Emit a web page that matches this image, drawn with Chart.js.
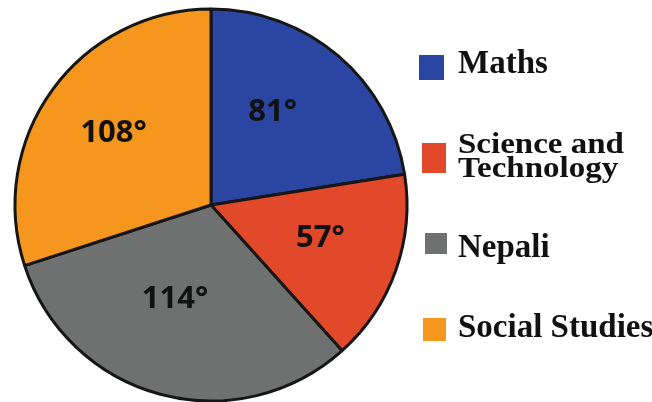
<!DOCTYPE html>
<html lang="en">
<head>
  <meta charset="UTF-8" />
  <title>Subjects pie chart</title>
  <script src="https://cdn.jsdelivr.net/npm/chart.js"></script>
  <style>
    html, body { margin: 0; padding: 0; background: #fff; }
    canvas { display: block; }
  </style>
</head>
<body>
  <canvas id="grafico" width="652" height="402"></canvas>

<script>
// data (degrees)
const subjects = ["Maths", ["Science and", "Technology"], "Nepali", "Social Studies"];
const degrees = [81, 57, 114, 108];
const sliceLabels = ["81°", "57°", "114°", "108°"];
const colours = ["#2B45A3", "#E2482A", "#6F7170", "#F5961E"];

// labels in the slices
const sliceText = {
  id: 'sliceText',
  afterDatasetsDraw(chart, args, opts) {
    const ctx = chart.ctx;
    const arcs = chart.getDatasetMeta(0).data;
    ctx.save();
    ctx.font = "bold 31px 'Open Sans'";
    ctx.fillStyle = "#111";
    ctx.textAlign = "center";
    ctx.textBaseline = "middle";
    arcs.forEach((arc, i) => {
      const a = (arc.startAngle + arc.endAngle) / 2;
      const r = arc.outerRadius * 0.57;
      const n = opts.nudge[i];
      ctx.fillText(sliceLabels[i], arc.x + Math.cos(a) * r + n[0], arc.y + Math.sin(a) * r + n[1]);
    });
    ctx.restore();
  }
};

// legend on the right, drawn by hand
const sideLegend = {
  id: 'sideLegend',
  afterDraw(chart, args, opts) {
    const ctx = chart.ctx;
    ctx.save();
    ctx.font = "bold 33px 'Liberation Serif'";
    ctx.textBaseline = "alphabetic";
    chart.data.labels.forEach((lab, i) => {
      const b = opts.boxes[i];
      ctx.fillStyle = colours[i];
      ctx.fillRect(b[0], b[1], b[2], b[3]);
      ctx.fillStyle = "#111";
      const lines = Array.isArray(lab) ? lab : [lab];
      // two-line label is squeezed a little in height, like the original
      const sy = lines.length > 1 ? 0.9 : 1;
      lines.forEach((t, k) => {
        const y = opts.baselines[i] + k * 24;
        ctx.save();
        ctx.translate(opts.textX, y);
        ctx.scale(1, sy);
        ctx.fillText(t, 0, 0);
        ctx.restore();
      });
    });
    ctx.restore();
  }
};

new Chart(document.getElementById("grafico"), {
  type: 'pie',
  data: {
    labels: subjects,
    datasets: [{
      data: degrees,
      backgroundColor: colours,
      borderColor: "#161616",
      borderWidth: 3
    }]
  },
  options: {
    responsive: false,
    animation: false,
    radius: 196,
    layout: { padding: { left: 14, right: 244, top: 8, bottom: 0 } },
    plugins: {
      legend: { display: false },
      tooltip: { enabled: false },
      sliceText: { nudge: [[-11, -8], [4, -4], [-7, -14], [-7, -6]] },
      sideLegend: {
        textX: 458,
        baselines: [73, 153, 257, 337],
        boxes: [[419, 55, 25, 25], [422, 143, 24, 30], [425, 233, 22, 21], [423, 318, 23, 23]]
      }
    }
  },
  plugins: [sliceText, sideLegend]
});
</script>
</body>
</html>
